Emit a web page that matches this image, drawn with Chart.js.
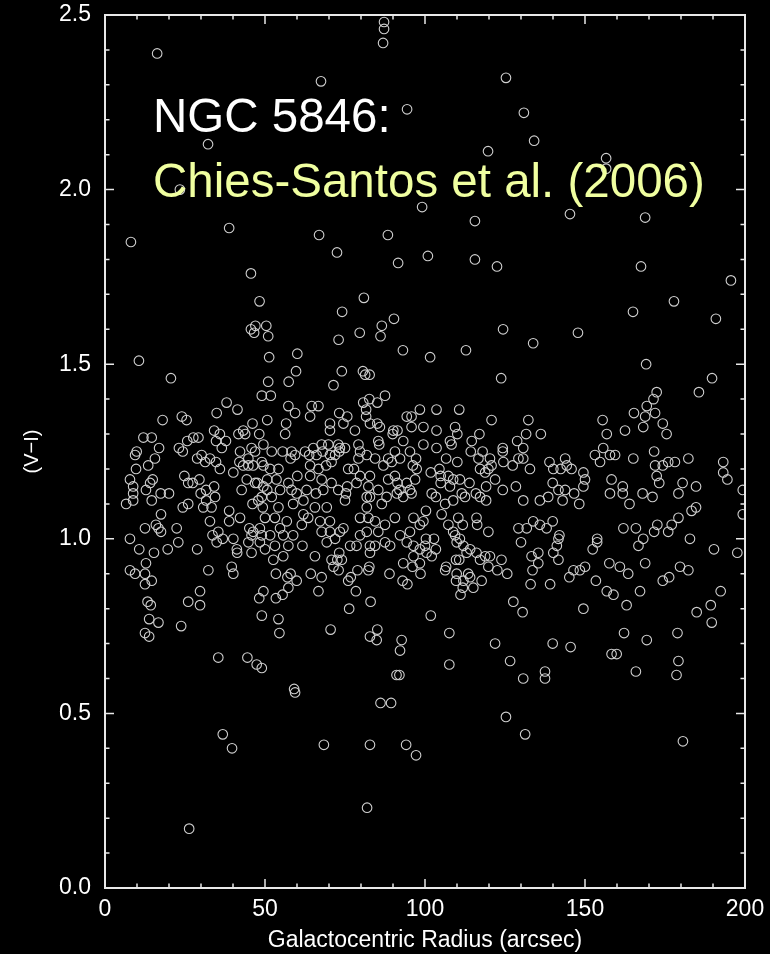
<!DOCTYPE html>
<html>
<head>
<meta charset="utf-8">
<script src="https://cdn.jsdelivr.net/npm/chart.js@4.4.1/dist/chart.umd.min.js"></script>
<style>
  html, body { margin: 0; padding: 0; background: #000; }
  canvas { display: block; }
</style>
</head>
<body>
<canvas id="colourRadius" width="770" height="954"></canvas>
<script>
// Galactocentric radius (arcsec) and (V-I) colour of each cluster, same order in both lists
const radiusArcsec = [
  16.3, 8.1, 32.2, 38.8, 10.6, 20.6, 67.5, 66.9, 72.5, 87.2,
  87.2, 86.9, 94.4, 88.4, 99.1, 100.9, 91.6, 115.6, 115.6, 119.7,
  122.5, 125.3, 130.9, 134.1, 145.3, 156.6, 156.6, 168.8, 167.5, 165.0,
  177.8, 195.6, 190.9, 45.6, 124.4, 147.8, 112.8, 101.6, 93.1, 90.3,
  80.9, 74.1, 123.8, 169.1, 189.7, 185.6, 23.4, 48.3, 47.0, 45.6,
  46.6, 50.4, 51.0, 73.0, 79.6, 86.5, 86.1, 51.3, 60.1, 59.7,
  74.0, 80.6, 81.3, 82.7, 51.0, 57.4, 71.4, 133.8,

  49.0, 38.0, 34.9, 41.4, 18.0, 24.0, 25.5, 34.1, 35.9, 46.1,
  41.7, 43.2, 43.8, 48.2, 12.0, 14.6, 27.6, 29.2, 25.7, 34.7,
  37.8, 36.5, 42.2, 46.9, 45.8, 16.9, 9.9, 9.4, 23.1, 24.3,
  15.6, 30.2, 28.8, 31.3, 32.8, 34.7, 35.9, 40.1, 42.0, 43.2,
  44.8, 46.3, 44.8, 49.5, 49.0, 9.7, 13.5, 7.8, 8.8, 8.8,
  14.9, 14.1, 12.8, 6.6, 8.8, 14.6, 17.4, 20.0, 24.8, 26.0,
  27.4, 29.5, 24.3, 26.0, 17.5, 29.9, 31.6, 34.1, 34.4, 31.6,
  30.7, 33.3, 32.8, 38.8, 42.2, 38.8, 12.5, 15.9, 16.7, 17.5,
  22.4, 7.8, 10.7, 15.3, 19.6, 22.9, 28.8, 33.6, 35.4, 34.9,
  36.8, 40.1, 41.2, 41.3, 45.1, 45.8, 46.3, 48.4, 49.0, 44.8,
  48.4, 45.8, 42.7, 44.3, 46.9, 47.6, 49.5, 46.1, 47.9, 49.0,
  49.3,

  51.8, 87.5, 82.6, 85.1, 80.7, 57.3, 59.4, 64.1, 64.6, 66.7,
  50.7, 56.6, 56.3, 70.3, 70.3, 73.2, 75.7, 74.5, 81.6, 81.6,
  82.8, 85.1, 85.9, 78.1, 90.1, 89.9, 91.4, 93.2, 85.4, 85.7,
  94.3, 95.8, 98.4, 95.8, 99.5, 49.5, 52.1, 55.5, 58.3, 59.4,
  58.0, 62.5, 65.1, 67.7, 69.8, 72.9, 73.4, 75.0, 63.8, 66.1,
  68.0, 70.3, 71.9, 73.2, 79.2, 79.7, 79.2, 81.8, 84.4, 87.0,
  88.5, 90.6, 89.6, 92.2, 95.3, 97.2, 96.2, 51.6, 54.2, 50.7,
  53.6, 57.3, 60.1, 58.3, 54.7, 50.7, 64.1, 66.7, 69.1, 70.8,
  64.1, 67.7, 70.8, 68.2, 65.9, 63.0, 59.9, 76.0, 77.8, 79.7,
  78.6, 75.7, 75.3, 72.9, 75.0, 82.8, 85.4, 82.3, 81.8, 88.5,
  90.6, 91.4, 94.3, 96.9, 97.4, 95.3, 92.0, 52.1, 54.2, 58.8,
  62.0, 65.6, 69.3, 63.5, 67.2, 70.3, 74.5, 73.4, 70.3, 67.7,
  82.8, 86.5, 88.0, 91.2, 93.2, 95.8, 81.8, 82.3, 79.7, 84.4,
  87.5, 90.6, 96.4, 98.4, 50.0, 53.1, 56.8, 62.0, 61.5, 54.7,
  55.7, 51.6, 53.1, 57.3, 58.8, 61.7, 65.6, 69.3, 71.9, 73.2,
  79.7, 81.8, 85.4, 87.5, 89.1, 84.4, 82.8, 78.6, 76.6, 82.8,
  92.2, 95.3, 96.4, 98.4, 94.3, 96.4, 50.0, 55.7,

  103.6, 110.7, 120.8, 132.3, 103.6, 109.4, 110.1, 117.0, 131.6, 136.2,
  99.5, 103.6, 107.8, 108.3, 114.6, 114.3, 118.0, 124.3, 124.3, 128.8,
  130.7, 130.7, 129.2, 106.6, 110.1, 116.7, 120.3, 120.8, 124.5, 127.4,
  117.2, 119.8, 118.8, 132.8, 101.8, 104.5, 104.9, 107.3, 108.8, 110.9,
  113.9, 107.8, 104.9, 121.9, 102.1, 103.4, 106.3, 108.8, 111.5, 112.5,
  115.9, 117.2, 119.1, 119.1, 124.3, 128.4, 130.7, 135.9, 138.5, 138.9,
  140.1, 142.4, 143.8, 144.3, 145.8, 149.5, 139.9, 141.7, 143.8, 146.6,
  143.0, 148.2, 149.5, 100.3, 99.5, 105.2, 107.3, 110.4, 111.8, 116.1,
  116.3, 119.8, 108.8, 109.4, 110.9, 109.9, 112.0, 114.1, 116.1, 118.8,
  113.0, 100.3, 102.8, 100.0, 103.4, 100.5, 102.1, 129.2, 131.8, 133.8,
  135.9, 138.0, 139.9, 130.0, 133.3, 135.4, 140.1, 141.2, 142.0, 141.7,
  120.3, 123.9,

  172.4, 171.4, 169.3, 171.9, 168.8, 165.3, 168.2, 155.5, 156.8, 162.5,
  174.3, 175.5, 153.1, 155.7, 154.7, 157.8, 159.4, 165.1, 171.6, 171.9,
  174.3, 176.0, 178.1, 172.4, 173.2, 182.3, 193.2, 193.2, 194.5, 199.3,
  199.3, 150.0, 158.3, 161.8, 161.8, 157.8, 168.0, 171.1, 163.9, 180.5,
  179.2, 184.7, 184.7, 183.3, 179.2, 177.1, 176.0, 172.6, 171.6, 168.2,
  166.7, 165.9, 162.0, 153.8, 153.8, 152.4, 182.8, 190.3, 197.6,

  12.8, 7.8, 9.4, 12.5, 14.6, 12.5, 32.3, 39.6, 40.1, 29.7,
  26.0, 29.7, 13.3, 14.3, 13.8, 16.7, 23.8, 12.5, 13.8, 48.2,
  49.5, 49.0, 35.4, 44.5, 47.4, 49.0, 36.8,

  52.6, 70.8, 72.6, 74.0, 71.4, 73.0, 82.6, 82.3, 78.9, 76.8,
  76.0, 53.4, 57.0, 58.0, 59.9, 64.3, 67.7, 53.4, 55.5, 57.3,
  66.7, 78.4, 83.0, 76.3, 88.9, 93.2, 96.1, 98.4, 98.6, 93.0,
  94.5, 54.2, 54.5, 70.5, 85.1, 82.8, 84.9, 92.7, 92.2, 91.1,
  92.0, 59.1, 59.4, 86.1, 89.4,

  106.3, 106.6, 109.7, 110.7, 109.9, 113.5, 114.1, 109.7, 112.0, 111.8,
  115.1, 117.7, 111.1, 117.2, 119.8, 122.6, 125.7, 135.4, 133.6, 141.7,
  133.0, 139.1, 145.1, 146.4, 148.4, 150.0, 127.6, 130.5, 101.8, 149.5,
  107.6, 121.9, 139.9, 145.5, 107.6, 126.6, 130.7, 137.5, 137.5, 125.3,
  131.3,

  157.6, 160.9, 163.5, 168.8, 179.7, 182.3, 153.4, 156.8, 158.9, 167.2,
  174.3, 176.3, 163.0, 192.4, 189.3, 184.9, 189.6, 162.2, 169.3, 178.9,
  158.3, 159.9, 179.2, 178.6, 165.9,

  26.3, 39.7, 68.4, 82.8, 81.9, 94.1, 97.2, 180.6
];

const colourVI = [
  2.39, 1.85, 2.13, 1.89, 1.51, 1.46, 2.31, 1.87, 1.82, 2.48,
  2.46, 2.42, 2.23, 1.87, 1.95, 1.81, 1.79, 1.91, 1.80, 2.11,
  1.78, 2.32, 2.22, 2.14, 1.93, 2.09, 2.06, 1.92, 1.78, 1.65,
  1.68, 1.74, 1.63, 1.76, 1.60, 1.59, 1.54, 1.52, 1.54, 1.63,
  1.69, 1.65, 1.46, 1.50, 1.46, 1.42, 2.00, 1.68, 1.61, 1.60,
  1.59, 1.61, 1.58, 1.57, 1.59, 1.61, 1.58, 1.52, 1.53, 1.48,
  1.48, 1.48, 1.47, 1.47, 1.45, 1.45, 1.44, 1.56,

  1.41, 1.39, 1.36, 1.37, 1.34, 1.35, 1.34, 1.31, 1.30, 1.33,
  1.30, 1.31, 1.30, 1.30, 1.29, 1.29, 1.29, 1.29, 1.28, 1.28,
  1.28, 1.26, 1.25, 1.25, 1.26, 1.26, 1.25, 1.24, 1.26, 1.25,
  1.23, 1.24, 1.23, 1.22, 1.23, 1.22, 1.20, 1.19, 1.22, 1.21,
  1.21, 1.21, 1.23, 1.21, 1.22, 1.20, 1.21, 1.17, 1.15, 1.13,
  1.17, 1.16, 1.14, 1.10, 1.11, 1.11, 1.13, 1.13, 1.18, 1.16,
  1.16, 1.17, 1.09, 1.10, 1.07, 1.13, 1.14, 1.15, 1.12, 1.11,
  1.09, 1.09, 1.05, 1.08, 1.06, 1.05, 1.03, 1.04, 1.03, 1.02,
  1.03, 1.00, 0.97, 0.96, 0.97, 0.99, 0.97, 1.01, 1.02, 0.99,
  1.00, 1.00, 0.97, 0.96, 1.03, 1.01, 1.02, 1.03, 1.01, 0.99,
  0.99, 0.96, 1.14, 1.17, 1.16, 1.16, 1.15, 1.10, 1.11, 1.12,
  1.09,

  1.41, 1.41, 1.40, 1.39, 1.39, 1.38, 1.36, 1.35, 1.38, 1.38,
  1.34, 1.33, 1.30, 1.33, 1.31, 1.36, 1.35, 1.33, 1.37, 1.35,
  1.33, 1.33, 1.32, 1.31, 1.31, 1.30, 1.31, 1.28, 1.28, 1.27,
  1.35, 1.35, 1.37, 1.32, 1.32, 1.27, 1.25, 1.25, 1.25, 1.24,
  1.23, 1.25, 1.26, 1.27, 1.27, 1.27, 1.26, 1.26, 1.24, 1.24,
  1.25, 1.24, 1.24, 1.25, 1.27, 1.25, 1.23, 1.24, 1.23, 1.21,
  1.23, 1.25, 1.22, 1.23, 1.25, 1.23, 1.21, 1.20, 1.20, 1.17,
  1.17, 1.16, 1.18, 1.14, 1.14, 1.14, 1.21, 1.20, 1.21, 1.22,
  1.18, 1.17, 1.16, 1.14, 1.13, 1.14, 1.13, 1.20, 1.20, 1.18,
  1.16, 1.15, 1.13, 1.14, 1.11, 1.18, 1.14, 1.15, 1.12, 1.17,
  1.18, 1.16, 1.16, 1.17, 1.20, 1.14, 1.14, 1.12, 1.09, 1.10,
  1.11, 1.09, 1.09, 1.06, 1.05, 1.05, 1.03, 1.02, 1.02, 1.02,
  1.12, 1.10, 1.12, 1.13, 1.12, 1.13, 1.09, 1.06, 1.06, 1.05,
  1.04, 1.06, 1.06, 1.04, 1.06, 1.06, 1.05, 1.07, 1.04, 1.03,
  1.01, 1.01, 0.98, 0.98, 1.01, 0.98, 0.95, 0.99, 1.00, 0.96,
  1.01, 1.02, 1.02, 0.99, 0.98, 0.98, 0.98, 0.98, 0.98, 0.96,
  1.01, 1.02, 0.98, 0.97, 0.99, 0.95, 0.97, 0.95,

  1.37, 1.37, 1.34, 1.34, 1.31, 1.32, 1.30, 1.30, 1.30, 1.30,
  1.27, 1.26, 1.28, 1.27, 1.28, 1.25, 1.25, 1.26, 1.25, 1.28,
  1.26, 1.23, 1.23, 1.23, 1.22, 1.23, 1.23, 1.21, 1.22, 1.21,
  1.20, 1.20, 1.19, 1.20, 1.19, 1.20, 1.18, 1.18, 1.17, 1.17,
  1.16, 1.15, 1.16, 1.17, 1.13, 1.12, 1.10, 1.11, 1.13, 1.12,
  1.13, 1.12, 1.11, 1.15, 1.14, 1.15, 1.11, 1.11, 1.12, 1.22,
  1.20, 1.20, 1.23, 1.21, 1.20, 1.19, 1.16, 1.14, 1.14, 1.13,
  1.11, 1.10, 1.15, 1.08, 1.05, 1.07, 1.04, 1.06, 1.04, 1.06,
  1.04, 1.02, 1.02, 1.01, 1.00, 0.99, 0.98, 0.97, 0.96, 0.95,
  0.96, 1.00, 1.00, 0.98, 0.97, 0.96, 0.95, 1.03, 1.03, 1.05,
  1.04, 1.03, 1.05, 0.99, 0.95, 0.96, 0.96, 0.98, 1.01, 1.00,
  0.95, 0.94,

  1.42, 1.40, 1.38, 1.36, 1.35, 1.36, 1.32, 1.34, 1.30, 1.31,
  1.33, 1.30, 1.24, 1.26, 1.22, 1.24, 1.24, 1.23, 1.25, 1.21,
  1.21, 1.22, 1.22, 1.18, 1.16, 1.23, 1.22, 1.19, 1.17, 1.14,
  1.07, 1.17, 1.17, 1.15, 1.13, 1.13, 1.13, 1.12, 1.10, 1.16,
  1.13, 1.15, 1.09, 1.08, 1.06, 1.04, 1.02, 1.04, 1.02, 1.00,
  0.98, 1.03, 1.03, 1.00, 0.99, 0.97, 1.00, 0.97, 0.96,

  0.93, 0.91, 0.90, 0.90, 0.88, 0.87, 0.91, 0.92, 0.90, 0.85,
  0.82, 0.81, 0.82, 0.81, 0.77, 0.76, 0.75, 0.73, 0.72, 0.83,
  0.85, 0.78, 0.66, 0.66, 0.64, 0.63, 0.44,

  0.94, 0.94, 0.94, 0.94, 0.92, 0.91, 0.92, 0.91, 0.91, 0.89,
  0.88, 0.90, 0.89, 0.90, 0.88, 0.90, 0.89, 0.83, 0.84, 0.86,
  0.85, 0.85, 0.82, 0.80, 0.90, 0.93, 0.92, 0.93, 0.90, 0.88,
  0.87, 0.77, 0.73, 0.74, 0.74, 0.72, 0.71, 0.71, 0.68, 0.61,
  0.61, 0.57, 0.56, 0.53, 0.53,

  0.91, 0.92, 0.94, 0.94, 0.90, 0.90, 0.89, 0.88, 0.88, 0.86,
  0.86, 0.88, 0.84, 0.94, 0.92, 0.91, 0.90, 0.93, 0.91, 0.94,
  0.87, 0.87, 0.89, 0.91, 0.91, 0.92, 0.82, 0.79, 0.78, 0.80,
  0.73, 0.70, 0.70, 0.69, 0.64, 0.65, 0.60, 0.62, 0.60, 0.49,
  0.44,

  0.93, 0.92, 0.90, 0.93, 0.92, 0.91, 0.88, 0.85, 0.84, 0.85,
  0.88, 0.89, 0.81, 0.85, 0.81, 0.79, 0.76, 0.73, 0.71, 0.73,
  0.67, 0.67, 0.65, 0.61, 0.62,

  0.17, 0.40, 0.41, 0.41, 0.23, 0.41, 0.38, 0.42
];

const xTicks = [0, 50, 100, 150, 200];
const yTicks = [0, 0.5, 1.0, 1.5, 2.0, 2.5];
const captionLines = ['NGC 5846:', 'Chies-Santos et al. (2006)'];

const fontFamily = '"Liberation Sans", Arial, Helvetica, sans-serif';
const axisColour = '#e8e8e8';
const markColour = '#cfcfcf';

Chart.defaults.font.family = fontFamily;

// box round the plot with inward ticks on all four sides, plus the caption
const frameTicks = {
  id: 'frameTicks',
  afterDraw(chart) {
    const { ctx, chartArea: a, scales: { x, y } } = chart;
    ctx.save();
    ctx.strokeStyle = axisColour;
    ctx.lineWidth = 2;
    ctx.strokeRect(a.left, a.top, a.right - a.left, a.bottom - a.top);

    ctx.lineWidth = 1.5;
    ctx.beginPath();
    for (let v = 0; v <= 200; v += 10) {
      const px = x.getPixelForValue(v);
      const len = v % 50 === 0 ? 9 : 4.5;
      ctx.moveTo(px, a.bottom);
      ctx.lineTo(px, a.bottom - len);
      ctx.moveTo(px, a.top);
      ctx.lineTo(px, a.top + len);
    }
    for (let i = 0; i <= 25; i++) {
      const py = y.getPixelForValue(i / 10);
      const len = i % 5 === 0 ? 9 : 4.5;
      ctx.moveTo(a.left, py);
      ctx.lineTo(a.left + len, py);
      ctx.moveTo(a.right, py);
      ctx.lineTo(a.right - len, py);
    }
    ctx.stroke();

    ctx.font = `47.5px ${fontFamily}`;
    ctx.textBaseline = 'alphabetic';
    ctx.textAlign = 'left';
    ctx.fillStyle = '#ffffff';
    ctx.fillText(captionLines[0], a.left + 48, a.top + 117);
    ctx.fillStyle = '#f0ffa0';
    ctx.fillText(captionLines[1], a.left + 48, a.top + 182);
    ctx.restore();
  }
};

const points = radiusArcsec.map((r, i) => ({ x: r, y: colourVI[i] }));

// the plot box is pinned by the layout padding, so labels may overhang it
const noOverhang = (s) => {
  s.paddingTop = 0;
  s.paddingBottom = 0;
  s.paddingLeft = 0;
  s.paddingRight = 0;
};

new Chart(document.getElementById('colourRadius'), {
  type: 'scatter',
  data: {
    datasets: [{
      data: points,
      pointStyle: 'circle',
      pointRadius: 4.8,
      pointBorderWidth: 1.1,
      pointBorderColor: markColour,
      pointBackgroundColor: 'rgba(0,0,0,0)'
    }]
  },
  options: {
    responsive: false,
    animation: false,
    events: [],
    layout: { padding: { top: 15, right: 25, bottom: 0, left: 0 } },
    plugins: {
      legend: { display: false },
      tooltip: { enabled: false }
    },
    scales: {
      x: {
        type: 'linear',
        min: 0,
        max: 200,
        afterBuildTicks: (s) => { s.ticks = xTicks.map(v => ({ value: v })); },
        afterFit: (s) => { s.height = 66; noOverhang(s); },
        grid: { display: false, drawTicks: false },
        border: { display: false },
        ticks: {
          color: '#ffffff',
          font: { size: 23 },
          padding: 8,
          maxRotation: 0,
          callback: (v) => String(v)
        },
        title: {
          display: true,
          text: 'Galactocentric Radius (arcsec)',
          color: '#ffffff',
          font: { size: 23 },
          padding: { top: 0, bottom: 0 }
        }
      },
      y: {
        type: 'linear',
        min: 0,
        max: 2.5,
        afterBuildTicks: (s) => { s.ticks = yTicks.map(v => ({ value: v })); },
        afterFit: (s) => { s.width = 105; noOverhang(s); },
        grid: { display: false, drawTicks: false },
        border: { display: false },
        ticks: {
          color: '#ffffff',
          font: { size: 23 },
          padding: 14,
          callback: (v) => v.toFixed(1)
        },
        title: {
          display: true,
          text: '(V\u2212I)',
          color: '#ffffff',
          font: { size: 20 },
          padding: { top: 20, bottom: 0 }
        }
      }
    }
  },
  plugins: [frameTicks]
});
</script>
</body>
</html>
